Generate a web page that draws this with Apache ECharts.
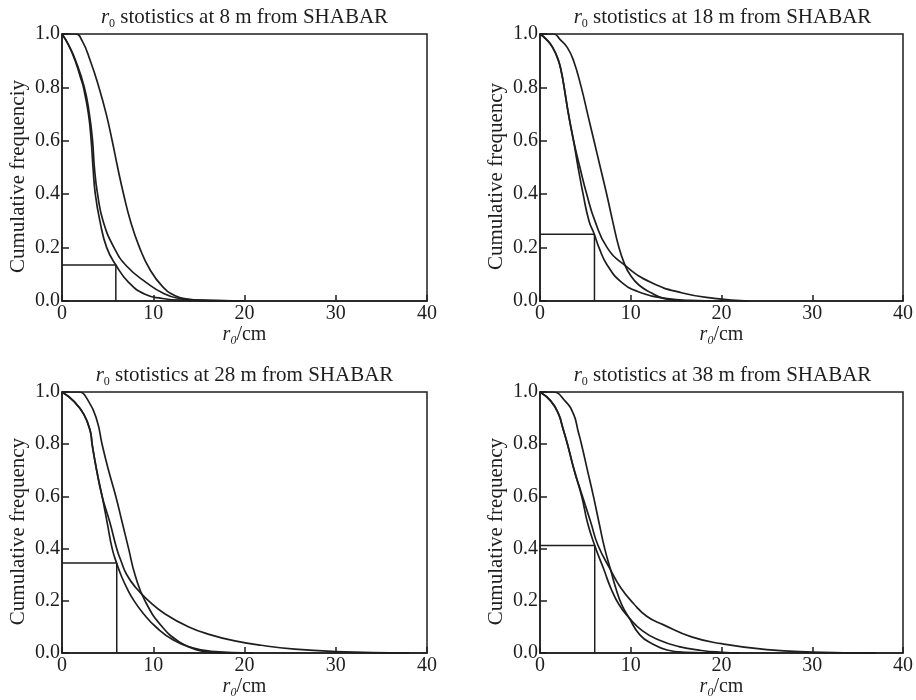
<!DOCTYPE html>
<html>
<head>
<meta charset="utf-8">
<script src="https://cdn.jsdelivr.net/npm/echarts@6/dist/echarts.min.js"></script>
<style>
html,body{margin:0;padding:0;background:#fff;}
#chart{width:916px;height:700px;}
</style>
</head>
<body>
<div id="chart"></div>
<script>
// ---- data ----
const distances = ['8', '18', '28', '38'];
const yAxisNames = ['Cumulative frequenciy', 'Cumulative frequency', 'Cumulative frequency', 'Cumulative frequency'];
const yTickValues = [0, 0.2, 0.4, 0.6, 0.8, 1.0];
const xTickValues = [0, 10, 20, 30, 40];

// 8 m
const curveA_8 = [[0,1],[1.5,1.0],[2.2,0.975],[3.1,0.9],[4.05,0.8],[4.85,0.7],[5.5,0.6],[6.1,0.5],[6.75,0.4],[7.5,0.3],[8.5,0.2],[9.6,0.12],[11.0,0.055],[12.4,0.02],[14,0.006],[16,0.001],[20,0]];
const curveB_8 = [[0,1],[0.7,0.96],[1.44,0.9],[2.0,0.84],[2.35,0.8],[2.9,0.7],[3.2,0.6],[3.4,0.5],[3.65,0.4],[4.15,0.3],[4.9,0.2],[5.9,0.135],[7.3,0.07],[9.1,0.025],[10.9,0.01],[13,0.003],[20,0]];
const curveC_8 = [[0,1],[0.7,0.96],[1.5,0.9],[2.45,0.8],[3.0,0.7],[3.35,0.6],[3.55,0.5],[3.9,0.4],[4.5,0.3],[5.7,0.2],[7.1,0.13],[9.2,0.07],[11.2,0.027],[12.8,0.01],[15,0.003],[20,0]];
const step_8 = [[0,0.135],[5.9,0.135],[5.9,0]];

// 18 m
const curveA_18 = [[0,1],[1.5,1.0],[2.2,0.98],[3.0,0.95],[3.7,0.9],[4.55,0.8],[5.25,0.7],[5.95,0.6],[6.65,0.5],[7.35,0.4],[8.0,0.3],[8.7,0.2],[9.3,0.14],[9.9,0.1],[10.9,0.06],[12.3,0.03],[13.6,0.01],[16,0]];
const curveB_18 = [[0,1],[0.7,0.98],[1.39,0.95],[2.04,0.9],[2.4,0.85],[2.66,0.8],[3.14,0.7],[3.7,0.6],[4.2,0.5],[4.75,0.4],[5.4,0.3],[5.98,0.25],[6.5,0.2],[7.4,0.135],[9.0,0.07],[11.2,0.03],[13.8,0.01],[16.5,0.002],[20,0]];
const curveC_18 = [[0,1],[0.7,0.98],[1.39,0.95],[2.04,0.9],[2.4,0.85],[2.66,0.8],[3.14,0.7],[3.7,0.6],[4.4,0.5],[5.15,0.4],[6.05,0.3],[7.4,0.2],[9.3,0.135],[12.2,0.07],[15.7,0.03],[19.2,0.01],[23,0]];
const step_18 = [[0,0.25],[6.0,0.25],[6.0,0]];

// 28 m
const curveA_28 = [[0,1],[1.8,1.0],[2.9,0.965],[3.84,0.89],[4.39,0.8],[5.1,0.7],[5.9,0.6],[6.6,0.5],[7.3,0.4],[8.0,0.3],[9.1,0.2],[11.0,0.1],[13.0,0.04],[14.8,0.012],[16.5,0.003],[19,0]];
const curveB_28 = [[0,1],[1.28,0.965],[2.38,0.915],[3.1,0.85],[3.3,0.8],[3.8,0.7],[4.4,0.6],[4.95,0.5],[5.5,0.4],[5.98,0.345],[6.45,0.3],[7.1,0.25],[7.9,0.2],[8.95,0.15],[10.3,0.1],[12.2,0.05],[14.3,0.02],[16.3,0.007],[21,0]];
const curveC_28 = [[0,1],[1.28,0.965],[2.38,0.915],[3.1,0.85],[3.3,0.8],[3.8,0.7],[4.4,0.6],[5.25,0.5],[6.0,0.4],[6.5,0.35],[7.1,0.3],[8.1,0.25],[9.5,0.2],[11.3,0.15],[13.9,0.1],[16.3,0.07],[18.8,0.048],[21.8,0.03],[25.5,0.015],[30,0.006],[38,0]];
const step_28 = [[0,0.345],[6.0,0.345],[6.0,0]];

// 38 m
const curveA_38 = [[0,1],[1.4,1.0],[2.78,0.965],[3.7,0.915],[4.2,0.85],[4.57,0.8],[5.23,0.7],[5.89,0.6],[6.5,0.5],[7.13,0.4],[7.79,0.318],[8.34,0.25],[9.0,0.186],[9.8,0.136],[11,0.07],[12.4,0.035],[14,0.012],[16,0.003],[20,0]];
const curveB_38 = [[0,1],[1.2,0.965],[2.05,0.915],[2.49,0.865],[3.03,0.8],[3.77,0.7],[4.6,0.6],[5.23,0.5],[6.03,0.412],[7.06,0.318],[7.79,0.25],[8.7,0.186],[9.8,0.136],[11.3,0.085],[13.1,0.05],[15.3,0.025],[17.8,0.01],[20,0.003],[22,0]];
const curveC_38 = [[0,1],[1.2,0.965],[2.05,0.915],[2.49,0.865],[3.03,0.8],[3.77,0.7],[4.5,0.62],[5.6,0.5],[6.4,0.412],[7.79,0.318],[8.9,0.25],[10.3,0.19],[11.8,0.14],[13.5,0.11],[16.7,0.062],[20,0.036],[25,0.013],[30,0.004],[37,0]];
const step_38 = [[0,0.412],[6.03,0.412],[6.03,0]];

const panelCurves = [
  [curveA_8, curveB_8, curveC_8],
  [curveA_18, curveB_18, curveC_18],
  [curveA_28, curveB_28, curveC_28],
  [curveA_38, curveB_38, curveC_38]
];
const panelSteps = [step_8, step_18, step_28, step_38];

// ---- layout / style ----
const FONT = '"Liberation Serif", "Times New Roman", Times, serif';
const INK = '#1e1e1e';
const grids = [
  {left: 62, top: 34, width: 365, height: 267},
  {left: 540, top: 34, width: 365, height: 267},
  {left: 62, top: 392, width: 365, height: 265},
  {left: 540, top: 392, width: 365, height: 265}
];
const titleTops = [4, 4, 362, 362];

const rich = {
  i: {fontFamily: FONT, fontStyle: 'italic', fontSize: 21, color: INK, lineHeight: 26},
  s: {fontFamily: FONT, fontSize: 12, color: INK, lineHeight: 18, verticalAlign: 'bottom'},
  n: {fontFamily: FONT, fontSize: 21, color: INK, lineHeight: 26}
};
const richX = {
  i: {fontFamily: FONT, fontStyle: 'italic', fontSize: 20, color: INK, lineHeight: 24},
  s: {fontFamily: FONT, fontStyle: 'italic', fontSize: 12, color: INK, lineHeight: 16, verticalAlign: 'bottom'},
  n: {fontFamily: FONT, fontSize: 20, color: INK, lineHeight: 24}
};

const option = {
  animation: false,
  backgroundColor: '#fff',
  title: distances.map((d, k) => ({
    text: '{i|r}{s|0}{n| stotistics at ' + d + ' m from SHABAR}',
    left: grids[k].left + grids[k].width / 2,
    top: titleTops[k],
    textAlign: 'center',
    padding: 0,
    textStyle: {fontFamily: FONT, fontSize: 21, fontWeight: 'normal', color: INK, rich: rich}
  })),
  grid: grids.map(g => Object.assign({show: true, borderColor: INK, borderWidth: 1.5, backgroundColor: 'transparent'}, g)),
  xAxis: grids.map((g, k) => ({
    type: 'value', gridIndex: k, min: xTickValues[0], max: xTickValues[xTickValues.length - 1], interval: 10,
    name: '{i|r}{s|0}{n|/cm}', nameLocation: 'middle', nameGap: 18,
    nameTextStyle: {fontFamily: FONT, fontSize: 20, color: INK, rich: richX},
    axisLine: {show: true, lineStyle: {color: INK, width: 1.5}},
    axisTick: {show: true, inside: true, length: 6, lineStyle: {color: INK, width: 1.5}},
    axisLabel: {fontFamily: FONT, fontSize: 20, color: INK, margin: 3},
    splitLine: {show: false}
  })),
  yAxis: grids.map((g, k) => ({
    type: 'value', gridIndex: k, min: yTickValues[0], max: yTickValues[yTickValues.length - 1], interval: 0.2,
    name: yAxisNames[k], nameLocation: 'middle', nameGap: 33,
    nameTextStyle: {fontFamily: FONT, fontSize: 21, color: INK, padding: [0, 18, 0, 0]},
    axisLine: {show: true, lineStyle: {color: INK, width: 1.5}},
    axisTick: {show: true, inside: true, length: 7, lineStyle: {color: INK, width: 1.5}},
    axisLabel: {fontFamily: FONT, fontSize: 20, color: INK, margin: 2, formatter: v => v.toFixed(1)},
    splitLine: {show: false}
  })),
  series: []
};

panelCurves.forEach((curves, k) => {
  curves.forEach(c => {
    option.series.push({
      type: 'line', xAxisIndex: k, yAxisIndex: k, data: c,
      smooth: 0.5, showSymbol: false, symbol: 'none',
      lineStyle: {color: INK, width: 1.7}, z: 3
    });
  });
  option.series.push({
    type: 'line', xAxisIndex: k, yAxisIndex: k, data: panelSteps[k],
    smooth: false, showSymbol: false, symbol: 'none',
    lineStyle: {color: INK, width: 1.5}, z: 3
  });
});

const chart = echarts.init(document.getElementById('chart'), null, {renderer: 'canvas'});
chart.setOption(option);
</script>
</body>
</html>
